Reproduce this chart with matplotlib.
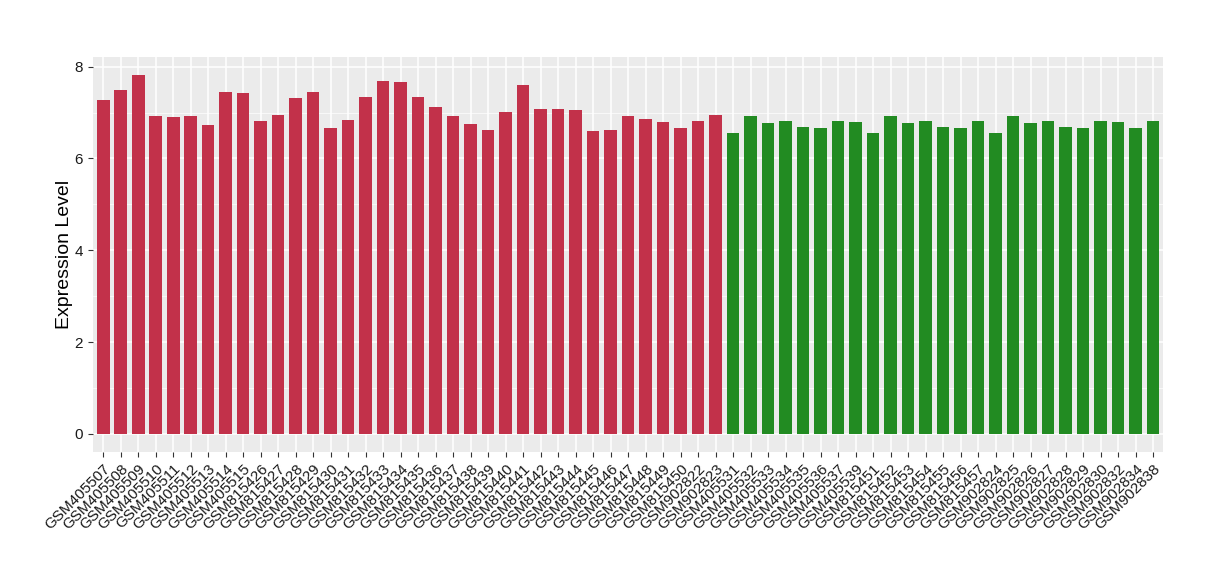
import matplotlib
matplotlib.use("Agg")
import matplotlib.pyplot as plt
from matplotlib.ticker import MultipleLocator

# --- DADOS ---
amostras_red = [
    "GSM405507", "GSM405508", "GSM405509", "GSM405510", "GSM405511", "GSM405512",
    "GSM405513", "GSM405514", "GSM405515", "GSM815426", "GSM815427", "GSM815428",
    "GSM815429", "GSM815430", "GSM815431", "GSM815432", "GSM815433", "GSM815434",
    "GSM815435", "GSM815436", "GSM815437", "GSM815438", "GSM815439", "GSM815440",
    "GSM815441", "GSM815442", "GSM815443", "GSM815444", "GSM815445", "GSM815446",
    "GSM815447", "GSM815448", "GSM815449", "GSM815450", "GSM902822", "GSM902823",
]
valores_red = [
    7.27, 7.49, 7.82, 6.92, 6.90, 6.92, 6.73, 7.45, 7.43, 6.81, 6.95, 7.32,
    7.45, 6.66, 6.84, 7.34, 7.69, 7.67, 7.34, 7.12, 6.92, 6.75, 6.62, 7.01,
    7.60, 7.08, 7.08, 7.05, 6.60, 6.62, 6.92, 6.86, 6.79, 6.66, 6.81, 6.95,
]
amostras_green = [
    "GSM405531", "GSM405532", "GSM405533", "GSM405534", "GSM405535", "GSM405536",
    "GSM405537", "GSM405539", "GSM815451", "GSM815452", "GSM815453", "GSM815454",
    "GSM815455", "GSM815456", "GSM815457", "GSM902824", "GSM902825", "GSM902826",
    "GSM902827", "GSM902828", "GSM902829", "GSM902830", "GSM902832", "GSM902834",
    "GSM902838",
]
valores_green = [
    6.55, 6.92, 6.77, 6.81, 6.68, 6.66, 6.81, 6.79, 6.55, 6.92, 6.77, 6.81,
    6.68, 6.66, 6.81, 6.55, 6.92, 6.77, 6.81, 6.68, 6.66, 6.81, 6.79, 6.66,
    6.81,
]

COR_RED = "#C2314A"
COR_GREEN = "#228B22"

plt.rcParams["font.family"] = ["Liberation Sans", "DejaVu Sans"]

rotulos = amostras_red + amostras_green
valores = valores_red + valores_green
cores = [COR_RED] * len(valores_red) + [COR_GREEN] * len(valores_green)
posicoes = list(range(len(rotulos)))

fig = plt.figure(figsize=(12.2, 5.8), dpi=100)
ax = fig.add_axes([0.076, 0.2212, 0.877, 0.6805])
ax.set_facecolor("#EBEBEB")

# grade estilo ggplot
ax.yaxis.set_minor_locator(MultipleLocator(1))
ax.grid(True, which="major", color="white", linewidth=1.1)
ax.grid(True, which="minor", axis="y", color="white", linewidth=0.5)
ax.set_axisbelow(True)

ax.bar(posicoes, valores, width=0.72, color=cores)

ax.set_xlim(-0.6, len(rotulos) - 0.45)
ax.set_ylim(-0.39, 8.21)
ax.set_yticks([0, 2, 4, 6, 8])
ax.set_xticks(posicoes)
ax.set_xticklabels(rotulos, rotation=45, ha="right", rotation_mode="anchor",
                   fontsize=11, color="#1A1A1A")
ax.tick_params(axis="y", labelsize=11, labelcolor="#1A1A1A")
ax.tick_params(which="major", length=3.5, color="#333333", width=0.8)
ax.tick_params(which="minor", length=0)
ax.set_ylabel("Expression Level", fontsize=14, labelpad=1)

for lado in ax.spines.values():
    lado.set_visible(False)

fig.savefig("out.png", dpi=100)
